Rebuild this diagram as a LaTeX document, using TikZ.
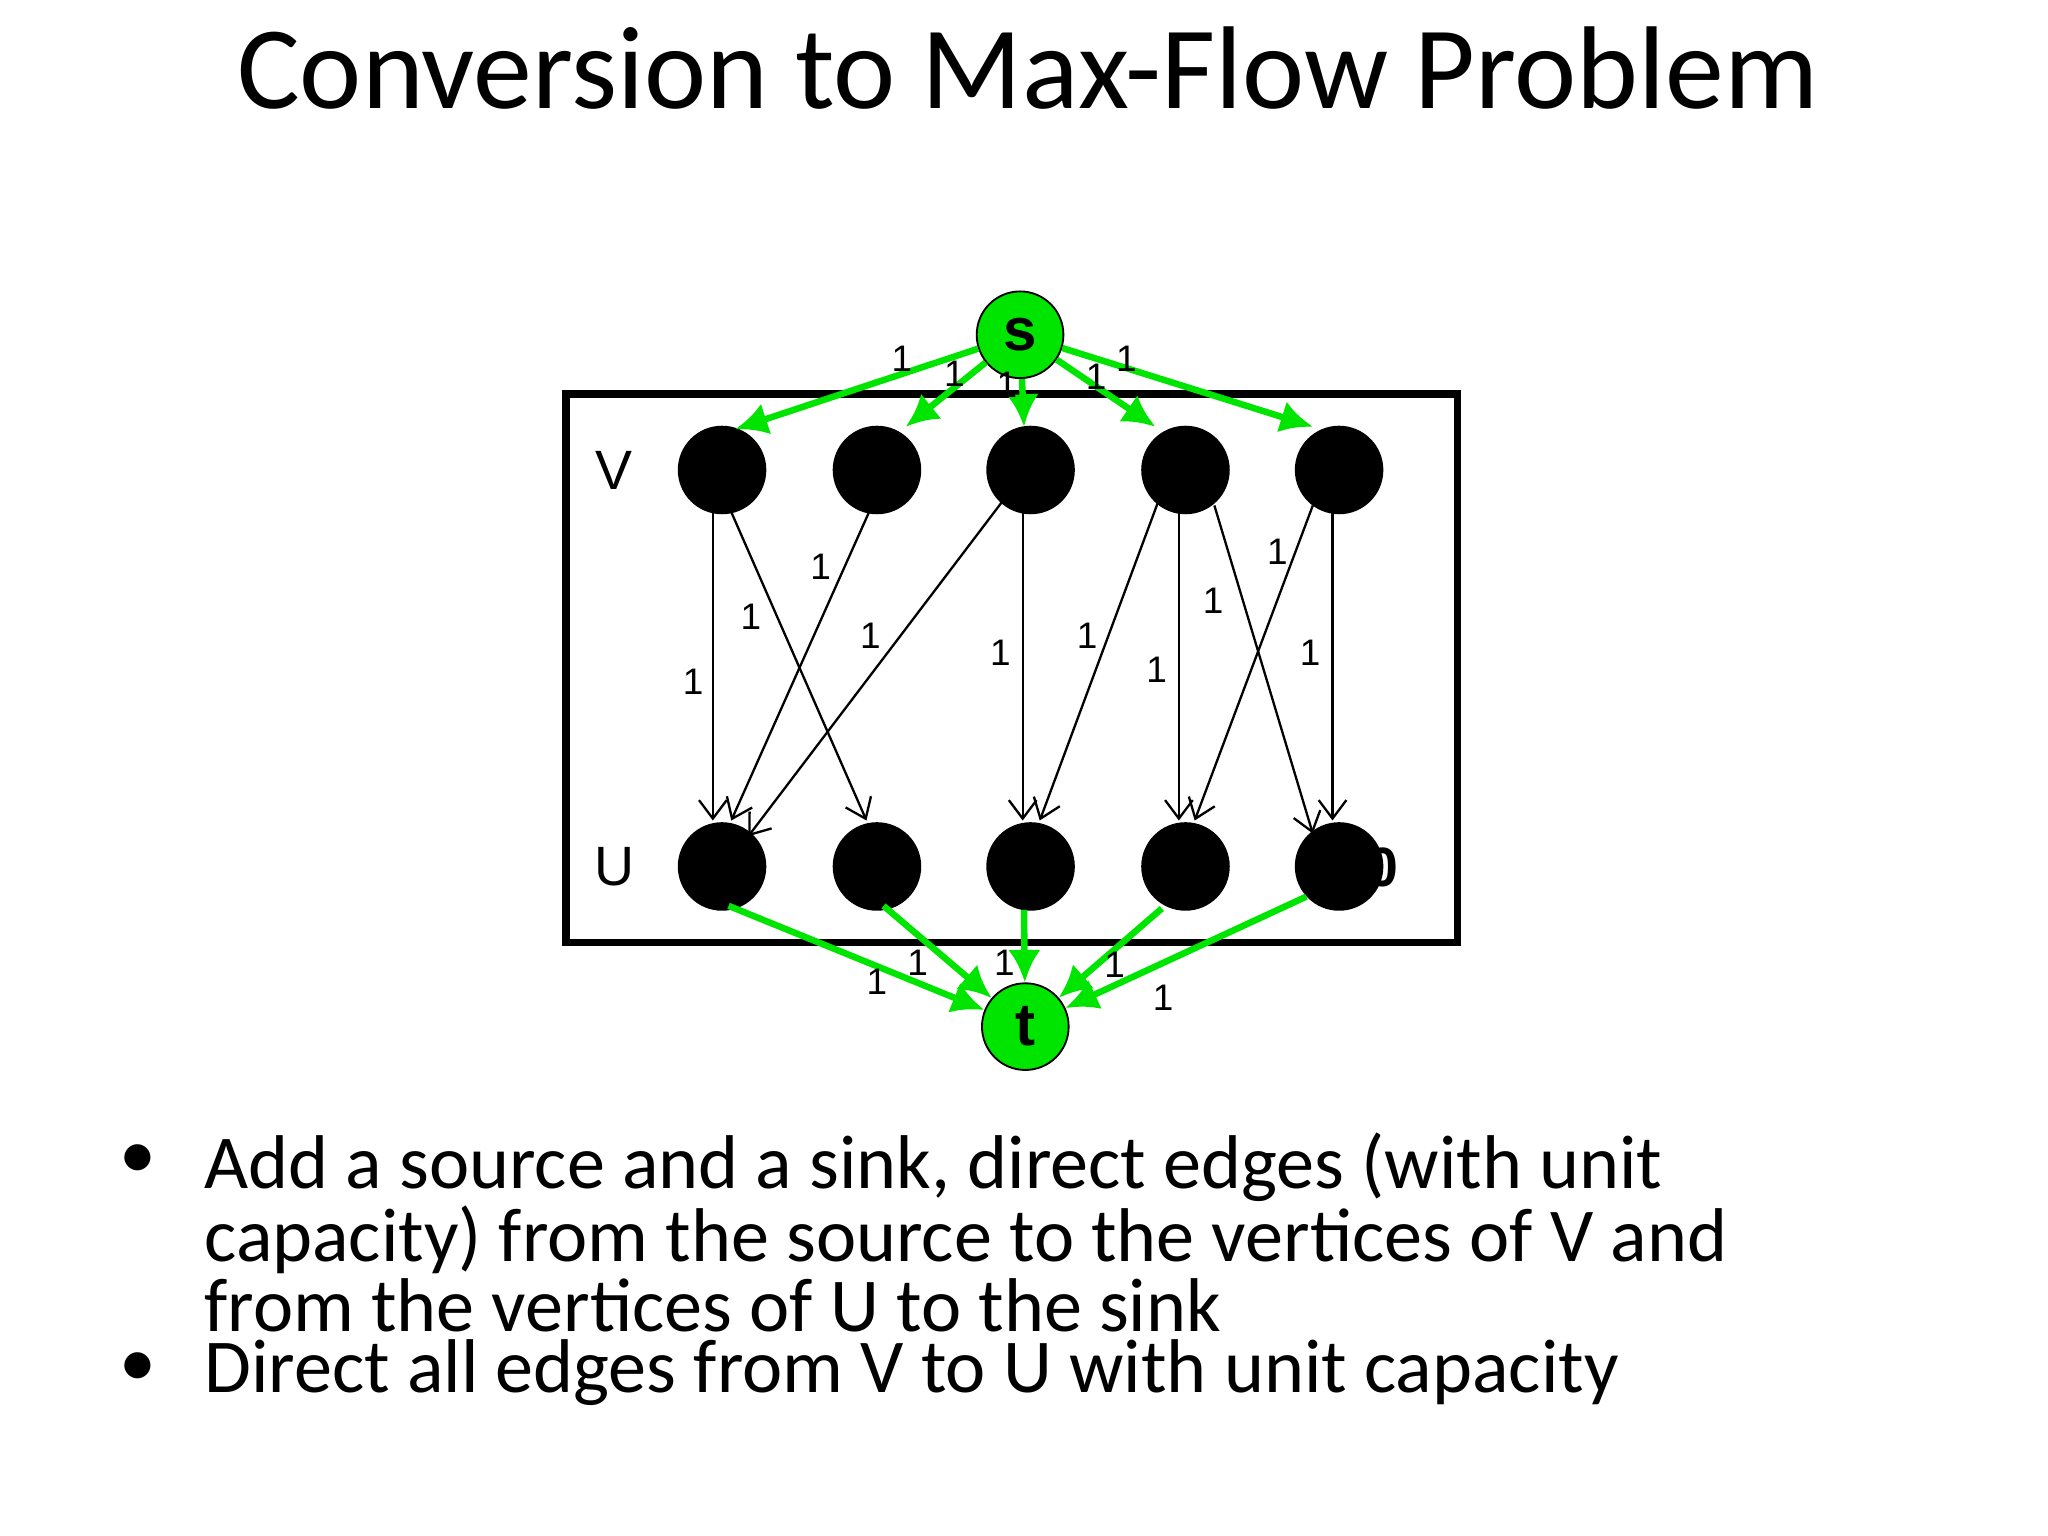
\documentclass[tikz,border=0pt]{standalone}
\usepackage{fontspec}
\setmainfont{Carlito}
\newfontfamily\arialf{Liberation Sans}
\usetikzlibrary{calc,arrows.meta}
\begin{document}
\begin{tikzpicture}[x=0.01cm,y=-0.01cm,
  vx/.style={circle,fill=black,draw=black,minimum size=0.66cm,inner sep=0},
  gx/.style={circle,fill=green!90!black,draw=black,minimum size=0.66cm,inner sep=0,font=\arialf\bfseries\fontsize{13}{13}\selectfont},
  e/.style={draw=black,line width=0.5pt,-{Straight Barb[length=4pt,width=6pt]}},
  g/.style={draw=green!90!black,line width=1.4pt,-{Latex[length=7pt,width=7pt]}},
  lb/.style={font=\arialf\fontsize{8}{8}\selectfont,inner sep=0}]
\useasboundingbox (0,0) rectangle (1560,1170);
\node[font=\fontsize{25.5}{25.5}\selectfont] (title) at (783,52) {Conversion to Max-Flow Problem};
\draw[line width=1.6pt] (431,300) rectangle (1110,718);
\node[font=\arialf\fontsize{12}{12}\selectfont] (lv) at (468,358) {V};
\node[font=\arialf\fontsize{12}{12}\selectfont] (lu) at (468,660) {U};
\node[font=\arialf\bfseries\fontsize{12}{12}\selectfont] (ten) at (1042,661) {10};
\foreach \i/\x in {1/550,2/668,3/785,4/903,5/1020}{
  \node[vx] (V\i) at (\x,358) {};
  \node[vx] (U\i) at (\x,660) {};
}
\node[gx] (s) at (777,255) {s};
\node[gx] (t) at (781,782) {t};
% V->U
\draw[e] ($(V1)+(-7,32)$) -- ($(U1)+(-7,-35)$);
\draw[e] ($(V1)+(7,32)$) -- ($(U2)+(-8,-35)$);
\draw[e] ($(V2)+(-6,32)$) -- ($(U1)+(7,-35)$);
\draw[e] ($(V3)+(-20,22)$) -- ($(U1)+(20,-23)$);
\draw[e] ($(V3)+(-6,32)$) -- ($(U3)+(-6,-35)$);
\draw[e] ($(V4)+(-20,22)$) -- ($(U3)+(7,-35)$);
\draw[e] ($(V4)+(-5,32)$) -- ($(U4)+(-5,-35)$);
\draw[e] ($(V4)+(22,27)$) -- ($(U5)+(-20,-25)$);
\draw[e] ($(V5)+(-20,27)$) -- ($(U4)+(7,-35)$);
\draw[e] ($(V5)+(-5,32)$) -- ($(U5)+(-5,-35)$);
% s->V
\draw[g] (s) -- ($(V1)+(10,-31)$);
\draw[g] (s) -- ($(V2)+(22,-33)$);
\draw[g] (s) -- ($(V3)+(-5,-33)$);
\draw[g] (s) -- ($(V4)+(-23,-33)$);
\draw[g] (s) -- ($(V5)+(-20,-33)$);
% U->t
\draw[g] ($(U1)+(5,30)$) -- (t);
\draw[g] ($(U2)+(5,30)$) -- (t);
\draw[g] ($(U3)+(-5,33)$) -- (t);
\draw[g] ($(U4)+(-18,32)$) -- (t);
\draw[g] ($(U5)+(-25,23)$) -- (t);
% labels
\foreach \n/\x/\y in {a/687/273,b/727/285,c/767/293,d/835/287,e/858/273,
  f/625/432,g/572/470,h/528/519,i/663/484,j/762/497,k/828/484,l/881/510,m/924/458,n/973/420,o/998/497,
  p/668/748,q/699/733,r/765/733,u/849/735,w/886/760}
  \node[lb] (L\n) at (\x,\y) {1};
% text
\node[font=\fontsize{16}{16}\selectfont] (b1) at (105,885) {•};
\node[font=\fontsize{16}{16}\selectfont] (b2) at (105,1043) {•};
\node[anchor=north west,align=left,inner sep=0,font=\fontsize{16.5}{13.4}\selectfont] (t1) at (155,862)
  {Add a source and a sink, direct edges (with unit\\capacity) from the source to the vertices of V and\\from the vertices of U to the sink};
\node[anchor=north west,inner sep=0,font=\fontsize{16.5}{13.4}\selectfont] (t2) at (155,1020)
  {Direct all edges from V to U with unit capacity};
\end{tikzpicture}
\end{document}
